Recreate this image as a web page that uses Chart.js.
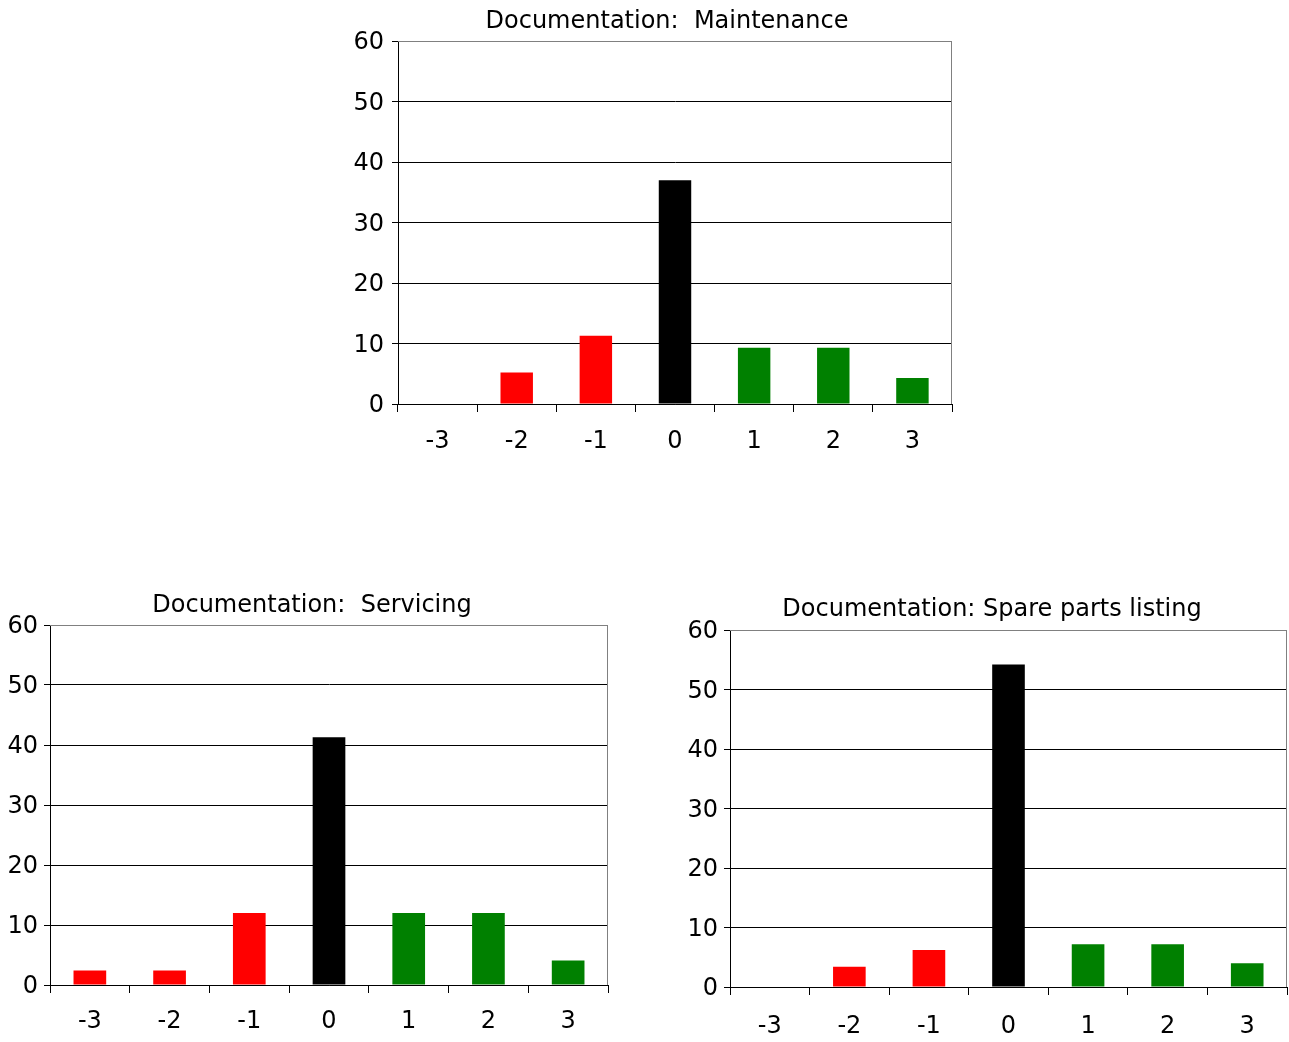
<!DOCTYPE html>
<html>
<head>
<meta charset="utf-8">
<title>Documentation ratings</title>
<script src="https://cdn.jsdelivr.net/npm/chart.js@4.4.1/dist/chart.umd.min.js"></script>
<style>
  html, body { margin: 0; padding: 0; background: #fff; overflow: hidden; }
  body { width: 1289px; height: 1042px; position: relative; }
  canvas { position: absolute; }
</style>
</head>
<body>
<canvas id="maint" width="734" height="470" style="left:300px;top:0px"></canvas>
<canvas id="serv" width="624" height="456" style="left:0px;top:584px"></canvas>
<canvas id="spare" width="609" height="451" style="left:680px;top:589px"></canvas>
<script>
// rating scale, -3 (poor) to 3 (good)
const ratings = ["-3", "-2", "-1", "0", "1", "2", "3"];
const yTicks = [0, 10, 20, 30, 40, 50, 60];

const maintenance = [0, 5.2, 11.3, 37, 9.3, 9.3, 4.3];
const servicing = [2.4, 2.4, 12, 41.3, 12, 12, 4.1];
const spareParts = [0, 3.4, 6.2, 54.2, 7.2, 7.2, 4.0];

const barColors = ["#ff0000", "#ff0000", "#ff0000", "#000000", "#008000", "#008000", "#008000"];

const FONT = "'DejaVu Sans', 'Liberation Sans', Arial, sans-serif";
Chart.defaults.font.family = FONT;
Chart.defaults.color = "#000";

// grey frame on top and right of the plot
const frame = {
  id: "frame",
  afterDraw(chart) {
    const a = chart.chartArea, c = chart.ctx;
    c.save();
    c.strokeStyle = "#808080";
    c.lineWidth = 1;
    c.beginPath();
    c.moveTo(a.left, a.top + 0.5);
    c.lineTo(a.right - 0.5, a.top + 0.5);
    c.lineTo(a.right - 0.5, a.bottom);
    c.stroke();
    c.restore();
  }
};

// heading text, centred on a given x rather than on the chart box
const heading = {
  id: "heading",
  afterDraw(chart, args, o) {
    const c = chart.ctx;
    c.save();
    c.font = "24px " + FONT;
    c.fillStyle = "#000";
    c.textAlign = "center";
    c.textBaseline = "middle";
    c.fillText(o.text, o.x, o.y);
    c.restore();
  }
};

function makeChart(id, title, values, opts) {
  return new Chart(document.getElementById(id), {
    type: "bar",
    data: {
      labels: ratings,
      datasets: [{
        data: values,
        backgroundColor: barColors,
        borderWidth: 0,
        barPercentage: 0.41,
        categoryPercentage: 1
      }]
    },
    options: {
      responsive: false,
      animation: false,
      devicePixelRatio: 1,
      layout: { padding: { left: 0, right: opts.padRight, top: opts.padTop, bottom: 0 } },
      plugins: {
        legend: { display: false },
        tooltip: { enabled: false },
        title: { display: false },
        heading: { text: title, x: opts.titleX, y: opts.titleY }
      },
      scales: {
        x: {
          afterFit: s => { s.height = opts.xHeight; },
          border: { color: "#000", width: 1 },
          grid: {
            offset: true,
            drawOnChartArea: false,
            drawTicks: true,
            tickLength: 8,
            tickColor: "#000"
          },
          ticks: { font: { size: 24 }, padding: opts.xPad, maxRotation: 0 }
        },
        y: {
          min: 0,
          max: 60,
          afterFit: s => { s.width = opts.yWidth; },
          afterBuildTicks: s => { s.ticks = yTicks.map(v => ({ value: v })); },
          border: { color: "#000", width: 1 },
          grid: {
            color: ctx => (ctx.tick && ctx.tick.value === 60 ? "#808080" : "#000"),
            tickColor: "#000",
            tickLength: 6,
            lineWidth: 1
          },
          ticks: { font: { size: 24 }, padding: opts.yPad, labelOffset: 2 }
        }
      }
    },
    plugins: [frame, heading]
  });
}

makeChart("maint", "Documentation:  Maintenance", maintenance,
  { padTop: 41, padRight: 82, yWidth: 98, xHeight: 66, xPad: 15, yPad: 8, titleX: 367, titleY: 22 });
makeChart("serv", "Documentation:  Servicing", servicing,
  { padTop: 41, padRight: 16, yWidth: 50, xHeight: 55, xPad: 14, yPad: 6, titleX: 312, titleY: 22 });
makeChart("spare", "Documentation: Spare parts listing", spareParts,
  { padTop: 41, padRight: 2, yWidth: 50, xHeight: 53, xPad: 17, yPad: 6, titleX: 312, titleY: 21 });
</script>
</body>
</html>
